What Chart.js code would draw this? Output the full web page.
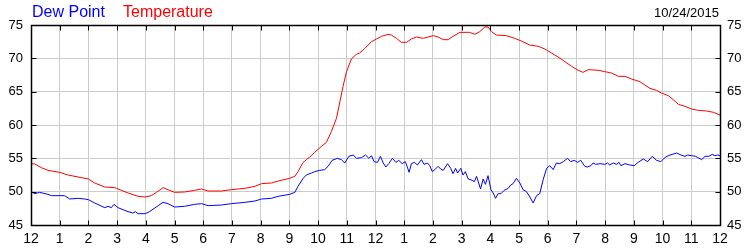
<!DOCTYPE html>
<html>
<head>
<meta charset="utf-8">
<script src="https://cdn.jsdelivr.net/npm/chart.js@4.4.1/dist/chart.umd.min.js"></script>
<style>
  html, body { margin: 0; padding: 0; background: #ffffff; }
  #wrap { position: relative; width: 750px; height: 250px; }
  canvas { position: absolute; left: 0; top: 0; }
  .lbl { position: absolute; font-family: "Liberation Sans", Arial, sans-serif; white-space: nowrap; }
  #lgDew { left: 32px; top: 4px; font-size: 16px; line-height: 16px; color: #0000ff; }
  #lgTemp { left: 123px; top: 4px; font-size: 16px; line-height: 16px; color: #ff0000; }
  #date { right: 31px; top: 6px; font-size: 13px; line-height: 13px; color: #000000; }
</style>
</head>
<body>
<div id="wrap">
  <canvas id="c" width="750" height="250"></canvas>
  <div class="lbl" id="lgDew">Dew Point</div>
  <div class="lbl" id="lgTemp">Temperature</div>
  <div class="lbl" id="date">10/24/2015</div>
</div>
<script>
// ---- data (hours after midnight, °F) ----
const tempHours = [0, 0.13, 0.36, 0.59, 1.0, 1.29, 1.64, 2.0, 2.22, 2.57, 2.92, 2.98, 3.38, 3.73, 3.98, 4.19, 4.37, 4.6, 4.77,
  5.0, 5.35, 5.7, 5.94, 6.17, 6.63, 6.98, 7.45, 7.8, 8.03, 8.37, 8.61, 9.01, 9.19, 9.3, 9.48, 9.59, 9.71,
  9.88, 10.12, 10.29, 10.46, 10.64, 10.75, 10.87, 10.99, 11.16, 11.33, 11.45, 11.63, 11.86, 12.03, 12.21, 12.44, 12.55, 12.73, 12.9, 13.08, 13.25, 13.43, 13.66, 13.83, 14.01, 14.18, 14.36,
  14.53, 14.7, 14.94, 15.28, 15.46, 15.63, 15.81, 15.92, 16.04, 16.21, 16.56, 16.85, 17.08, 17.37, 17.67, 17.9, 18.13, 18.36, 18.6, 18.83, 19.06, 19.23,
  19.41, 19.76, 19.99, 20.22, 20.46, 20.69, 20.92, 21.21, 21.38, 21.56, 21.79, 21.96, 22.2, 22.37, 22.55, 22.78, 23.01, 23.24, 23.53, 23.77, 24.0];
const temperature = [54.2, 54.15, 53.6, 53.2, 52.9, 52.5, 52.2, 51.9, 51.3, 50.7, 50.6, 50.5, 49.8, 49.3, 49.2, 49.4, 49.9, 50.6, 50.3,
  49.9, 49.95, 50.2, 50.4, 50.1, 50.1, 50.3, 50.5, 50.8, 51.2, 51.3, 51.6, 52.0, 52.3, 53.0, 54.4, 54.8, 55.2,
  55.9, 56.8, 57.4, 59.0, 61.0, 63.3, 65.8, 68.0, 69.9, 70.6, 70.8, 71.5, 72.5, 72.9, 73.3, 73.6, 73.5, 73.0, 72.4, 72.4, 72.9, 73.2, 73.0, 73.2, 73.4, 73.2, 72.8,
  72.8, 73.3, 73.9, 73.9, 73.6, 74.0, 74.7, 74.7, 74.0, 73.5, 73.4, 73.0, 72.6, 72.0, 71.8, 71.4, 70.8, 70.2, 69.5, 68.8, 68.2, 67.9,
  68.3, 68.2, 68.0, 67.8, 67.3, 67.3, 66.9, 66.5, 66.0, 65.5, 65.2, 64.8, 64.4, 63.8, 63.1, 62.8, 62.4, 62.2, 62.1, 61.9, 61.5];

const dewHours = [0, 0.13, 0.3, 0.59, 0.71, 1.17, 1.35, 1.64, 1.87, 2.0, 2.22, 2.57, 2.68, 2.8, 2.89, 3.03, 3.38, 3.55, 3.64, 3.73, 3.98, 4.13, 4.43, 4.6,
  4.77, 5.0, 5.35, 5.7, 5.94, 6.17, 6.63, 6.98, 7.45, 7.8, 8.03, 8.37, 8.61, 9.01, 9.19, 9.3, 9.48, 9.59,
  9.77, 9.88, 10.06, 10.23, 10.35, 10.49, 10.67, 10.81, 10.93, 11.07, 11.22, 11.34, 11.51, 11.65, 11.77, 11.86, 11.95, 12.07, 12.17, 12.27, 12.36, 12.46, 12.59, 12.71, 12.81, 12.93, 13.04, 13.1, 13.17, 13.25, 13.35, 13.46, 13.6, 13.69, 13.81, 13.89, 13.98, 14.09, 14.18, 14.27, 14.36, 14.51,
  14.62, 14.7, 14.79, 14.86, 14.97, 15.05, 15.13, 15.23, 15.37, 15.44, 15.52, 15.66, 15.75, 15.83, 15.92, 16.02, 16.1, 16.18, 16.27, 16.37, 16.48, 16.62, 16.71, 16.79, 16.91, 17.03, 17.14, 17.26, 17.38, 17.49, 17.61, 17.72, 17.84, 17.96, 18.07, 18.19, 18.3, 18.42, 18.54, 18.69, 18.8, 18.92, 19.04, 19.15, 19.29, 19.38,
  19.5, 19.58, 19.67, 19.82, 19.99, 20.08, 20.16, 20.28, 20.4, 20.48, 20.55, 20.69, 20.86, 21.01, 21.15, 21.33, 21.48, 21.64, 21.79, 21.94, 22.1, 22.26, 22.49, 22.64, 22.78, 22.87, 23.01, 23.15, 23.36, 23.48, 23.61, 23.73, 23.82, 23.92, 24.0];
const dewPoint = [50.0, 49.7, 49.9, 49.6, 49.4, 49.4, 48.9, 49.0, 48.9, 48.8, 48.3, 47.6, 47.8, 47.6, 48.1, 47.6, 47.0, 46.8, 47.0, 46.7, 46.7, 47.0, 47.9, 48.4,
  48.2, 47.7, 47.8, 48.1, 48.2, 47.9, 48.0, 48.2, 48.4, 48.6, 48.9, 49.0, 49.3, 49.6, 49.9, 50.8, 52.0, 52.5,
  52.8, 53.0, 53.2, 53.3, 53.8, 54.7, 55.0, 54.8, 54.3, 55.3, 55.5, 55.0, 55.1, 55.5, 55.0, 55.4, 54.5, 54.4, 55.3, 54.3, 53.7, 54.2, 55.0, 54.4, 54.7, 54.2, 54.5, 53.8, 52.9, 54.2, 54.4, 54.0, 54.8, 54.1, 54.3, 53.9, 53.0, 53.4, 53.8, 53.4, 53.2, 54.2,
  53.5, 52.7, 53.5, 52.8, 53.5, 52.5, 53.0, 51.9, 51.7, 51.5, 52.3, 50.4, 51.9, 51.1, 52.4, 50.3, 49.8, 49.0, 49.7, 49.7, 50.2, 50.5, 51.0, 51.2, 52.0, 51.3, 50.3, 50.0, 49.2, 48.3, 49.4, 49.7, 51.8, 53.5, 53.9, 53.3, 54.3, 54.2, 54.5, 55.0, 54.5, 54.7, 54.4, 54.7, 53.8, 53.7,
  53.9, 54.3, 54.1, 54.2, 54.1, 54.3, 54.0, 54.3, 54.1, 54.4, 53.9, 54.2, 54.0, 53.9, 54.4, 54.9, 54.5, 55.3, 54.7, 54.5, 55.2, 55.5, 55.8, 55.5, 55.3, 55.5, 55.4, 55.3, 54.8, 55.3, 55.3, 55.6, 55.4, 55.5, 55.4];

const xTickValues = [0, 1, 2, 3, 4, 5, 6, 7, 8, 9, 10, 11, 12, 13, 14, 15, 16, 17, 18, 19, 20, 21, 22, 23, 24];
const xTickLabels = ['12', '1', '2', '3', '4', '5', '6', '7', '8', '9', '10', '11', '12', '1', '2', '3', '4', '5', '6', '7', '8', '9', '10', '11', '12'];
const yMin = 45, yMax = 75, yStep = 5;

const toPts = (xs, ys) => xs.map((x, i) => ({ x: x, y: ys[i] }));

const FONT = '"Liberation Sans", Arial, sans-serif';

const framePlugin = {
  id: 'frame',
  afterDraw(chart) {
    const ctx = chart.ctx;
    const a = chart.chartArea;
    const xs = chart.scales.x, ys = chart.scales.y;
    const L = Math.round(a.left) + 0.5, R = Math.round(a.right) + 0.5;
    const T = Math.round(a.top) + 0.5, B = Math.round(a.bottom) + 0.5;
    ctx.save();
    ctx.strokeStyle = '#000000';
    ctx.lineWidth = 1;
    ctx.beginPath();
    // inward tick marks
    xTickValues.forEach(v => {
      const px = Math.round(xs.getPixelForValue(v)) + 0.5;
      ctx.moveTo(px, T); ctx.lineTo(px, T + 5);
      ctx.moveTo(px, B); ctx.lineTo(px, B - 5);
    });
    for (let v = yMin; v <= yMax; v += yStep) {
      const py = Math.round(ys.getPixelForValue(v)) + 0.5;
      ctx.moveTo(L, py); ctx.lineTo(L + 5, py);
      ctx.moveTo(R, py); ctx.lineTo(R - 5, py);
    }
    ctx.stroke();
    ctx.lineWidth = 1.5;
    ctx.strokeRect(L, T, R - L, B - T);
    ctx.restore();
  }
};

new Chart(document.getElementById('c'), {
  type: 'line',
  data: {
    datasets: [
      { label: 'Temperature', data: toPts(tempHours, temperature), borderColor: '#ff0000', borderWidth: 1, pointRadius: 0, tension: 0, fill: false, yAxisID: 'y' },
      { label: 'Dew Point', data: toPts(dewHours, dewPoint), borderColor: '#0000ff', borderWidth: 1, pointRadius: 0, tension: 0, fill: false, yAxisID: 'y' }
    ]
  },
  options: {
    responsive: false,
    animation: false,
    events: [],
    layout: { padding: { top: 25, left: 0, right: 0, bottom: 0 } },
    plugins: { legend: { display: false }, tooltip: { enabled: false } },
    scales: {
      x: {
        type: 'linear', position: 'bottom', min: 0, max: 24,
        afterBuildTicks: s => { s.ticks = xTickValues.map(v => ({ value: v })); },
        afterFit: s => { s.height = 25; },
        ticks: { color: '#000000', font: { family: FONT, size: 14 }, padding: 6, maxRotation: 0, autoSkip: false,
                 callback: (v) => xTickLabels[xTickValues.indexOf(v)] },
        grid: { color: '#cccccc', lineWidth: 1, drawTicks: false },
        border: { display: false }
      },
      y: {
        type: 'linear', position: 'left', min: yMin, max: yMax,
        afterFit: s => { s.width = 31; },
        ticks: { stepSize: yStep, color: '#000000', font: { family: FONT, size: 13 }, padding: 8 },
        grid: { color: '#cccccc', lineWidth: 1, drawTicks: false },
        border: { display: false }
      },
      y2: {
        type: 'linear', position: 'right', min: yMin, max: yMax,
        afterFit: s => { s.width = 30; },
        ticks: { stepSize: yStep, color: '#000000', font: { family: FONT, size: 13 }, padding: 7 },
        grid: { drawOnChartArea: false, drawTicks: false },
        border: { display: false }
      }
    }
  },
  plugins: [framePlugin]
});
</script>
</body>
</html>
